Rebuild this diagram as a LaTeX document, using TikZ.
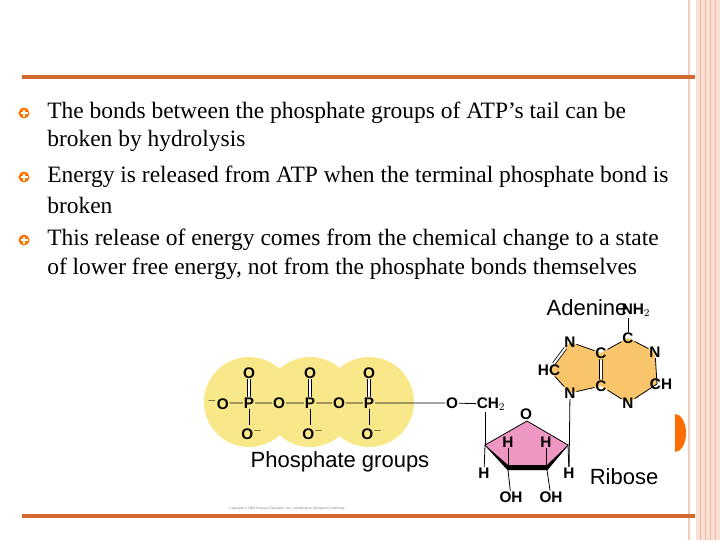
\documentclass[tikz,border=0pt]{standalone}
\usepackage{fontspec}
\setmainfont{Liberation Serif}
\newfontfamily\arialf{Liberation Sans}
\begin{document}
\begin{tikzpicture}[x=0.75pt,y=-0.75pt,
  atm/.style={font=\arialf\bfseries\fontsize{11.5}{11.5}\selectfont,inner sep=0.5pt},
  bl/.style={font=\fontsize{17.6}{20}\selectfont,anchor=west,inner sep=0},
  lab/.style={font=\arialf\fontsize{16.5}{17}\selectfont,inner sep=0},
  bond/.style={line width=0.6pt}]
\definecolor{orl}{HTML}{D2692E}
\definecolor{pk}{HTML}{F7C9B8}
\definecolor{ylw}{HTML}{F8E88A}
\definecolor{rib}{HTML}{EE97C2}
\definecolor{ade}{HTML}{F8C56B}
\useasboundingbox (0,0) rectangle (720,540);
\fill[white] (0,0) rectangle (720,540);
% right decoration
\fill[pk!60] (696,0) rectangle (720,540);
\foreach \x in {700,705,710,715}{\draw[pk!90!red,line width=0.6pt] (\x,0)--(\x,540);}
\draw[pk,line width=1.2pt] (689,0)--(689,540);
\draw[orl,line width=2.5pt] (22,77)--(695,77);
\draw[orl,line width=2.5pt] (22,516)--(695,516);
% bullets
\foreach \y [count=\i] in {113,177,240}{
  \fill[orange!90!red] (24,\y) circle (5.5);
  \draw[white,line width=1pt] (20.5,\y)--(27.5,\y) (24,\y-3.5)--(24,\y+3.5);
  \node[draw=none] (b\i) at (24,\y) {};}
\node[bl] (t1) at (47,113) {The bonds between the phosphate groups of ATP’s tail can be};
\node[bl] (t2) at (47,141) {broken by hydrolysis};
\node[bl] (t3) at (47,177) {Energy is released from ATP when the terminal phosphate bond is};
\node[bl] (t4) at (47,205) {broken};
\node[bl] (t5) at (47,240) {This release of energy comes from the chemical change to a state};
\node[bl] (t6) at (47,269) {of lower free energy, not from the phosphate bonds themselves};
% phosphates
\foreach \x in {249,310,369}{\fill[ylw] (\x,402) circle (45);}
\node[atm] (om) at (218,403) {$^{-}$O};
\foreach \x/\n in {249/1,310/2,369/3}{
  \node[atm] (p\n) at (\x,403) {P};
  \node[atm] (ot\n) at (\x,373) {O};
  \node[atm] (ob\n) at (\x+3,433) {O$^{-}$};
  \draw[bond,double,double distance=1.5pt] (ot\n)--(p\n);
  \draw[bond] (p\n)--(\x,425);}
\node[atm] (o1) at (279,403) {O};
\node[atm] (o2) at (339,403) {O};
\node[atm] (o3) at (452,403) {O};
\node[atm] (ch2) at (491,404) {CH$_2$};
\draw[bond] (om)--(p1)--(o1)--(p2)--(o2)--(p3)--(o3)--(ch2);
% ribose
\coordinate (rt) at (527,421);
\coordinate (rl) at (485,445);
\coordinate (rr) at (568,445);
\coordinate (rbl) at (508,470);
\coordinate (rbr) at (547,470);
\fill[rib] (rt)--(rr)--(rbr)--(rbl)--(rl)--cycle;
\draw[bond] (rbr)--(rr)--(rt)--(rl)--(rbl);
\fill (rl)--(rbl)--(rbr)--(rr)--(547,465)--(508,465)--cycle;
\node[atm,fill=white] (ro) at (526,414) {O};
\node[atm] (h1) at (508,442) {H};
\node[atm] (h2) at (546,442) {H};
\draw[bond] (h1)--(508,468) (h2)--(546,468);
\node[atm] (hl) at (484,473) {H};
\node[atm] (hr) at (569,473) {H};
\draw[bond] (rl)--(hl) (rr)--(hr);
\node[atm] (oh1) at (511,497) {OH};
\node[atm] (oh2) at (551,497) {OH};
\draw[bond] (rbl)--(oh1) (rbr)--(oh2);
\draw[bond] (485,412)--(rl);
% adenine
\coordinate (a1) at (570,342);
\coordinate (a2) at (601,353);
\coordinate (a3) at (601,386);
\coordinate (a4) at (570,393);
\coordinate (a5) at (549,370);
\coordinate (a6) at (628,338);
\coordinate (a7) at (655,352);
\coordinate (a8) at (657,384);
\coordinate (a9) at (628,403);
\fill[ade] (a1)--(a2)--(a6)--(a7)--(a8)--(a9)--(a3)--(a4)--(a5)--cycle;
\node[atm] (n1) at (a1) {N};
\node[atm] (c2) at (a2) {C};
\node[atm] (c3) at (a3) {C};
\node[atm] (n4) at (a4) {N};
\node[atm] (hc) at (a5) {HC};
\node[atm] (c6) at (a6) {C};
\node[atm] (n7) at (a7) {N};
\node[atm] (ch) at (661,384) {CH};
\node[atm] (n9) at (a9) {N};
\node[atm] (nh2) at (636,310) {NH$_2$};
\draw[bond] (n1)--(c2) (c3)--(n4)--(hc) (c6)--(n7) (a8)--(n9) (c3)--(n9) (c2)--(c6) (n7)--(a8);
\draw[bond,double,double distance=1.5pt] (hc)--(n1) (c2)--(c3);
\draw[bond] (c6)--(628,318);
\draw[bond] (n4)--(hr);
% labels
\node[lab] (lade) at (587,308) {Adenine};
\node[lab] (lph) at (340,462) {Phosphate groups};
\node[lab] (lrib) at (624,477) {Ribose};
\fill[orange!85!red] (675,452) arc (90:-90:11 and 19) -- cycle;
\node[font=\arialf\fontsize{2.5}{3}\selectfont,text=gray] (cp) at (287,509) {Copyright © 2004 Pearson Education, Inc., publishing as Benjamin Cummings};
\end{tikzpicture}
\end{document}
